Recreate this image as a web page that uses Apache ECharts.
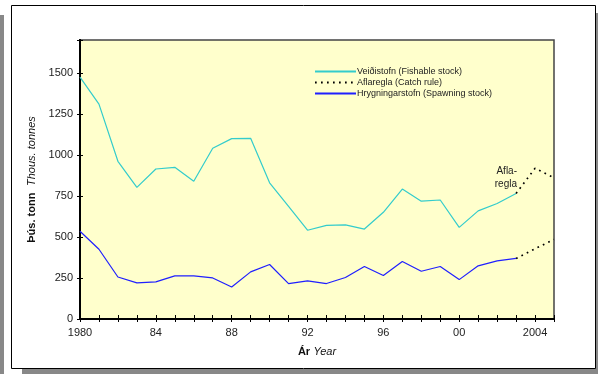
<!DOCTYPE html>
<html>
<head>
<meta charset="utf-8">
<script src="https://cdn.jsdelivr.net/npm/echarts@6/dist/echarts.min.js"></script>
<style>
  html, body { margin: 0; padding: 0; background: #fff; }
  #chart { width: 598px; height: 374px; }
</style>
</head>
<body>
<div id="chart"></div>
<script>
// Years and stock estimates (thousand tonnes)
const years = [1980, 1981, 1982, 1983, 1984, 1985, 1986, 1987, 1988, 1989, 1990, 1991,
               1992, 1993, 1994, 1995, 1996, 1997, 1998, 1999, 2000, 2001, 2002, 2003];
const fishableStock = [1474, 1309, 961, 802, 914, 924, 839, 1040, 1099, 1101, 830, 686,
                       541, 570, 574, 548, 650, 792, 718, 725, 558, 659, 704, 765];
const spawningStock = [535, 425, 256, 220, 226, 263, 263, 250, 195, 287, 332, 216,
                       232, 216, 253, 320, 265, 350, 291, 320, 240, 324, 354, 369];
// Projection under the catch rule
const ruleYears = [2003, 2004, 2005];
const ruleFishable = [765, 918, 861];
const ruleSpawning = [369, 428, 485];

const seriesNames = ['Veiðistofn (Fishable stock)', 'Aflaregla (Catch rule)', 'Hrygningarstofn (Spawning stock)'];
const yRange = { min: 0, max: 1700, interval: 250, lastLabel: 1500 };

const pairs = (xs, ys) => xs.map((x, i) => [x, ys[i]]);
const FONT = 'Liberation Sans, Arial, sans-serif';

function yearLabel(v) {
  if (v % 4 !== 0) return '';
  if (v === 1980 || v === 2004) return String(v);
  return String(v % 100).padStart(2, '0');
}

const chart = echarts.init(document.getElementById('chart'), null, { renderer: 'canvas' });

const baseX = {
  type: 'value', min: 1980, max: 2005, interval: 1,
  axisLine: { show: true, lineStyle: { color: '#000', width: 2 } },
  splitLine: { show: false }
};
const baseY = {
  type: 'value', min: yRange.min, max: yRange.max, interval: yRange.interval,
  axisLine: { show: true, lineStyle: { color: '#000', width: 2 } },
  splitLine: { show: false }
};

const dotted = { color: '#000', width: 1.7, type: [1.7, 4.3] };

chart.setOption({
  animation: false,
  textStyle: { fontFamily: FONT },
  graphic: [
    { type: 'rect', shape: { x: 0, y: 15, width: 4, height: 359 }, style: { fill: '#888' }, z: -10 },
    { type: 'rect', shape: { x: 22, y: 369, width: 576, height: 5 }, style: { fill: '#888' }, z: -10 },
    { type: 'rect', shape: { x: 595, y: 13, width: 3, height: 361 }, style: { fill: '#888' }, z: -10 },
    { type: 'rect', shape: { x: 11.5, y: 5.5, width: 584, height: 363 }, style: { fill: '#fff', stroke: '#000', lineWidth: 1 }, z: -9 },
    { type: 'text', x: 517, y: 178, z: 20,
      style: { text: 'Afla-\nregla', fill: '#222', font: '10px ' + FONT, align: 'right', verticalAlign: 'middle', lineHeight: 13 } }
  ],
  grid: {
    left: 80, top: 40, right: 44, bottom: 55,
    show: true, backgroundColor: '#FFFFCC', borderColor: '#444', borderWidth: 1.5
  },
  legend: {
    orient: 'vertical', left: 309, top: 62, itemGap: 2,
    itemWidth: 41, itemHeight: 9,
    data: seriesNames,
    itemStyle: { opacity: 0 },
    textStyle: { fontSize: 9, color: '#222', fontFamily: FONT, padding: [0, 0, 0, -4] }
  },
  xAxis: [
    Object.assign({}, baseX, {
      axisTick: { show: true, inside: false, length: 3, lineStyle: { color: '#000', width: 1 } },
      axisLabel: { formatter: yearLabel, interval: 0, color: '#222', fontSize: 11, margin: 8, fontFamily: FONT },
      name: '{b|Ár} {i|Year}', nameLocation: 'middle', nameGap: 27,
      nameTextStyle: { rich: {
        b: { fontWeight: 'bold', fontSize: 11, color: '#111', fontFamily: FONT },
        i: { fontStyle: 'italic', fontSize: 11, color: '#111', fontFamily: FONT } } }
    }),
    Object.assign({}, baseX, {
      position: 'bottom',
      axisTick: { show: true, inside: true, length: 4, lineStyle: { color: '#000', width: 1 } },
      axisLabel: { show: false }
    })
  ],
  yAxis: [
    Object.assign({}, baseY, {
      axisTick: { show: true, inside: false, length: 3, lineStyle: { color: '#000', width: 1 } },
      axisLabel: { color: '#222', fontSize: 11, margin: 7, fontFamily: FONT,
                   formatter: v => (v <= yRange.lastLabel ? String(v) : '') },
      name: '{b|Þús. tonn}  {i|Thous. tonnes}', nameLocation: 'middle', nameGap: 32, nameRotate: 90,
      nameTextStyle: { rich: {
        b: { fontWeight: 'bold', fontSize: 11, color: '#111', fontFamily: FONT },
        i: { fontStyle: 'italic', fontSize: 11, color: '#111', fontFamily: FONT } } }
    }),
    Object.assign({}, baseY, {
      position: 'left',
      axisTick: { show: true, inside: true, length: 3, lineStyle: { color: '#000', width: 1 } },
      axisLabel: { show: false }
    })
  ],
  series: [
    { name: seriesNames[0], type: 'line', data: pairs(years, fishableStock), symbol: 'none',
      lineStyle: { color: '#33CCCC', width: 1.2 }, itemStyle: { color: '#33CCCC' }, z: 5 },
    { name: seriesNames[1], type: 'line', data: pairs(ruleYears, ruleFishable), symbol: 'none',
      lineStyle: dotted, itemStyle: { color: '#000' }, z: 6 },
    { name: seriesNames[1], type: 'line', data: pairs(ruleYears, ruleSpawning), symbol: 'none',
      lineStyle: dotted, itemStyle: { color: '#000' }, z: 6 },
    { name: seriesNames[2], type: 'line', data: pairs(years, spawningStock), symbol: 'none',
      lineStyle: { color: '#1f1fff', width: 1.2 }, itemStyle: { color: '#1f1fff' }, z: 5 }
  ]
});
</script>
</body>
</html>
